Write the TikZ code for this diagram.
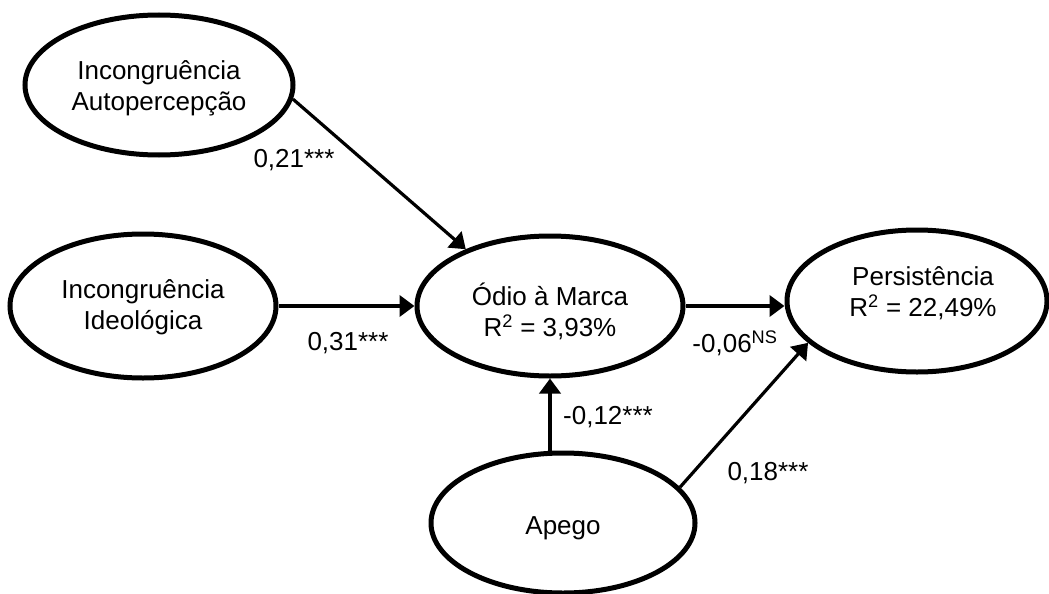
\documentclass[tikz,border=0pt]{standalone}
\usepackage{fontspec}
\setmainfont{Liberation Sans}
\usetikzlibrary{arrows.meta,shapes.geometric}
\begin{document}
\begin{tikzpicture}[x=1pt,y=-1pt,
  latent/.style={ellipse, draw, line width=5pt, inner sep=0pt},
  ltext/.style={align=center, inner sep=0pt, font=\fontsize{26}{31}\selectfont},
  pathto/.style={-{Triangle[length=15pt,width=21pt]}, line width=4pt},
  slant/.style={line width=3.2pt},
  coef/.style={font=\fontsize{26}{31}\selectfont, inner sep=0pt}]
\useasboundingbox (0,0) rectangle (1049,594);

% latent constructs
\node[latent, minimum width=268pt, minimum height=140pt] (auto) at (159,85) {};
\node[latent, minimum width=266pt, minimum height=144pt] (ideo) at (143,306) {};
\node[latent, minimum width=266pt, minimum height=140pt] (odio) at (550,306) {};
\node[latent, minimum width=260pt, minimum height=142pt] (pers) at (917,301) {};
\node[latent, minimum width=264pt, minimum height=140pt] (apego) at (563,523) {};

% construct names
\node[ltext] (autotxt) at ([yshift=-3pt]auto.center) {Incongruência\\Autopercepção};
\node[ltext] (ideotxt) at ([yshift=-1pt]ideo.center) {Incongruência\\Ideológica};
\node[ltext] (odiotxt) at ([yshift=-5pt]odio.center) {Ódio à Marca\\R\textsuperscript{2} = 3,93\%};
\node[ltext] (perstxt) at ([xshift=6pt,yshift=8pt]pers.center) {Persistência\\R\textsuperscript{2} = 22,49\%};
\node[ltext] (apegotxt) at ([yshift=-5pt]apego.center) {Apego};

% structural paths
\draw[pathto, slant] (auto.-6) -- (odio.146);
\draw[pathto] (ideo.east) -- (odio.west);
\draw[pathto] (odio.east) -- (odio.east -| pers.west);
\draw[pathto] (apego.north -| odio.south) -- (odio.south);
\draw[pathto, slant] (apego.17) -- (pers.201);

% path coefficients
\node[coef] (c1) at (294,160) {0,21***};
\node[coef] (c2) at (348,343) {0,31***};
\node[coef] (c3) at (735,343) {-0,06\textsuperscript{NS}};
\node[coef] (c4) at (608,417) {-0,12***};
\node[coef] (c5) at (768,473) {0,18***};
\end{tikzpicture}
\end{document}
